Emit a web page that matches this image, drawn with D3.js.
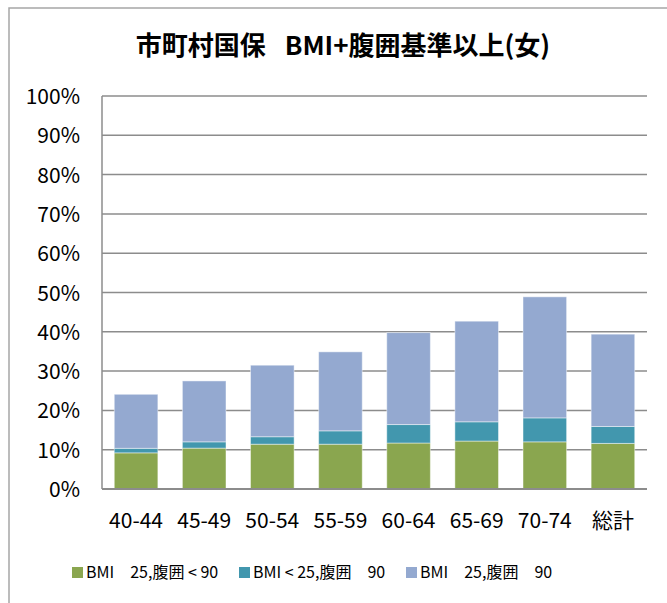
<!DOCTYPE html>
<html>
<head>
<meta charset="utf-8">
<script src="https://cdn.jsdelivr.net/npm/d3@7"></script>
<style>
  body { margin: 0; background: #fff; }
  svg text { font-family: "Noto Sans CJK JP", "Noto Sans", sans-serif; fill: #000; }
</style>
</head>
<body>
<div class="chart"></div>
<script>
// chart size and plot margins
const WIDTH = 667;
const HEIGHT = 603;
const MARGIN = { top: 96, right: 20, bottom: 114, left: 102 };

// data (percent)
const categories = ["40-44", "45-49", "50-54", "55-59", "60-64", "65-69", "70-74", "総計"];
const bmiOnly = [9.2, 10.4, 11.4, 11.4, 11.7, 12.2, 12.0, 11.6];
const waistOnly = [1.15, 1.6, 1.9, 3.4, 4.7, 4.9, 6.1, 4.3];
const both = [13.75, 15.5, 18.2, 20.1, 23.4, 25.6, 30.8, 23.5];
const yTicks = [0, 10, 20, 30, 40, 50, 60, 70, 80, 90, 100];

const seriesNames = ["BMI\u300025,腹囲 < 90", "BMI < 25,腹囲\u300090", "BMI\u300025,腹囲\u300090"];
const seriesColors = ["#8aa64f", "#4297ae", "#94a9d0"];
const keys = ["a", "b", "c"];

// build rows for the stack layout
var rows = categories.map(function (c, i) {
  return { cat: c, a: bmiOnly[i], b: waistOnly[i], c: both[i] };
});
var stacked = d3.stack().keys(keys)(rows);

var svg = d3.select(".chart").append("svg")
  .attr("width", WIDTH)
  .attr("height", HEIGHT);

// outer chart frame (runs off the right and bottom edge)
svg.append("rect")
  .attr("x", 9).attr("y", 8)
  .attr("width", WIDTH + 20).attr("height", HEIGHT + 20)
  .attr("fill", "none")
  .attr("stroke", "#a6a6a6")
  .attr("stroke-width", 1.5);

var x = d3.scaleBand()
  .domain(categories)
  .range([MARGIN.left, 647])
  .paddingInner(0.36)
  .paddingOuter(0.18);

var y = d3.scaleLinear()
  .domain([0, 100])
  .range([HEIGHT - MARGIN.bottom, MARGIN.top]);

// gridlines
svg.append("g")
  .selectAll("line")
  .data(yTicks)
  .join("line")
  .attr("x1", MARGIN.left).attr("x2", 647)
  .attr("y1", function (d) { return y(d); })
  .attr("y2", function (d) { return y(d); })
  .attr("stroke", "#8c8c8c")
  .attr("stroke-width", 1.5);

// left axis line
svg.append("line")
  .attr("x1", MARGIN.left).attr("x2", MARGIN.left)
  .attr("y1", y(100)).attr("y2", y(0))
  .attr("stroke", "#8c8c8c")
  .attr("stroke-width", 1.5);

// stacked bars
svg.append("g")
  .selectAll("g")
  .data(stacked)
  .join("g")
  .attr("fill", function (d, i) { return seriesColors[i]; })
  .selectAll("rect")
  .data(function (d) { return d; })
  .join("rect")
  .attr("x", function (d) { return x(d.data.cat); })
  .attr("y", function (d) { return y(d[1]); })
  .attr("width", x.bandwidth())
  .attr("height", function (d) { return y(d[0]) - y(d[1]); })
  .attr("stroke", "#ffffff")
  .attr("stroke-opacity", 0.45)
  .attr("stroke-width", 1);

// bottom axis line on top of bars
svg.append("line")
  .attr("x1", MARGIN.left).attr("x2", 647)
  .attr("y1", y(0)).attr("y2", y(0))
  .attr("stroke", "#8c8c8c")
  .attr("stroke-width", 2);

// y axis labels
svg.append("g")
  .call(d3.axisLeft(y).tickValues(yTicks).tickFormat(function (d) { return d + "%"; }).tickSize(0).tickPadding(0))
  .attr("transform", "translate(80,0)")
  .call(function (g) { g.select(".domain").remove(); })
  .call(function (g) {
    g.selectAll(".tick text")
      .attr("font-size", 21)
      .attr("fill", "#000")
      .attr("dy", "0.36em")
      .style("font-family", "'Noto Sans CJK JP', sans-serif");
  });

// x axis labels
svg.append("g")
  .attr("transform", "translate(0," + y(0) + ")")
  .call(d3.axisBottom(x).tickSize(0).tickPadding(0))
  .call(function (g) { g.select(".domain").remove(); })
  .call(function (g) {
    g.selectAll(".tick text")
      .attr("y", 39)
      .attr("dy", 0)
      .attr("font-size", 21)
      .attr("fill", "#000")
      .style("font-family", "'Noto Sans CJK JP', sans-serif");
  });

// title
svg.append("text")
  .attr("x", 343)
  .attr("y", 55)
  .attr("text-anchor", "middle")
  .attr("font-size", 26)
  .attr("font-weight", "bold")
  .style("white-space", "pre")
  .text("市町村国保\u2002 BMI+腹囲基準以上(女)");

// legend
var legend = svg.append("g")
  .selectAll("g")
  .data(seriesNames)
  .join("g")
  .attr("transform", function (d, i) { return "translate(" + (72 + i * 167) + ",567)"; });

legend.append("rect")
  .attr("width", 11).attr("height", 11)
  .attr("fill", function (d, i) { return seriesColors[i]; });

legend.append("text")
  .attr("x", 14)
  .attr("y", 11)
  .attr("font-size", 16)
  .style("white-space", "pre")
  .text(function (d) { return d; });
</script>
</body>
</html>
